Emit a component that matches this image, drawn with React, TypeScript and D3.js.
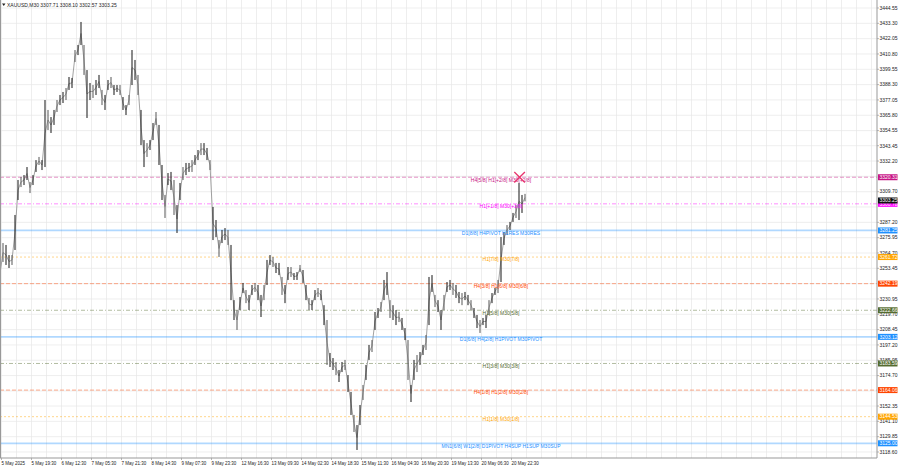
import React from 'react';
import * as d3 from 'd3';

const W = 900;
const H = 468;

const chartTitle = 'XAUUSD,M30  3307.71 3308.10 3302.57 3303.25';

// price columns (each column ~ 3 bars of M30)
const highs = [
  3258.1, 3272.0, 3270.6, 3263.2, 3263.2, 3292.6, 3318.3, 3320.5, 3321.9, 3327.8,
  3316.8, 3321.9, 3332.9, 3335.2, 3332.9, 3377.0, 3369.7, 3364.5, 3369.7, 3377.0,
  3380.7, 3382.9, 3385.8, 3393.9, 3393.2, 3413.7, 3417.4, 3434.3, 3417.4, 3399.0,
  3389.5, 3388.0, 3391.7, 3395.4, 3384.4, 3380.7, 3391.7, 3393.9, 3388.0, 3388.0,
  3388.0, 3379.2, 3373.3, 3380.7, 3413.7, 3406.4, 3395.4, 3369.7, 3347.6, 3345.4,
  3347.6, 3360.1, 3368.2, 3358.7, 3329.3, 3307.3, 3323.4, 3324.2, 3318.3, 3299.9,
  3316.1, 3327.8, 3330.8, 3330.8, 3332.9, 3336.6, 3340.3, 3345.4, 3345.4, 3341.8,
  3332.9, 3298.5, 3288.9, 3274.2, 3281.6, 3283.0, 3281.6, 3270.6, 3230.1, 3222.8,
  3232.4, 3242.7, 3237.5, 3233.9, 3241.2, 3242.7, 3241.2, 3233.9, 3241.2, 3259.6,
  3263.2, 3261.8, 3257.4, 3257.4, 3247.1, 3241.2, 3254.4, 3254.4, 3250.0, 3250.7,
  3255.9, 3252.2, 3241.2, 3231.7, 3230.1, 3237.5, 3239.0, 3237.5, 3226.4, 3215.5,
  3191.3, 3187.6, 3184.7, 3178.8, 3184.7, 3186.2, 3175.1, 3162.7, 3145.8, 3138.4,
  3153.1, 3167.8, 3182.5, 3197.2, 3200.8, 3221.4, 3224.3, 3228.7, 3244.9, 3250.7,
  3230.1, 3226.4, 3222.8, 3221.4, 3217.0, 3209.6, 3200.8, 3167.8, 3186.2, 3189.8,
  3192.0, 3197.2, 3204.5, 3247.1, 3248.5, 3233.9, 3230.1, 3222.8, 3233.9, 3243.4,
  3244.9, 3242.7, 3241.2, 3236.1, 3235.3, 3236.1, 3233.9, 3230.1, 3224.3, 3219.2,
  3215.5, 3217.0, 3219.2, 3230.1, 3235.3, 3239.0, 3244.9, 3276.4, 3280.1, 3285.2,
  3287.5, 3294.1, 3299.9, 3316.1, 3307.3, 3308.1,
];
const lows = [
  3241.2, 3258.1, 3255.9, 3253.7, 3255.9, 3266.9, 3303.6, 3313.1, 3314.6, 3318.3,
  3308.7, 3314.6, 3324.2, 3329.3, 3325.6, 3327.8, 3355.0, 3352.8, 3358.7, 3368.2,
  3373.3, 3374.8, 3377.0, 3384.4, 3385.8, 3404.9, 3410.0, 3417.4, 3395.4, 3363.8,
  3377.0, 3378.5, 3380.7, 3385.8, 3373.3, 3369.7, 3384.4, 3385.8, 3380.7, 3382.9,
  3380.7, 3369.7, 3366.0, 3373.3, 3388.0, 3391.7, 3380.7, 3343.9, 3327.8, 3335.2,
  3340.3, 3347.6, 3358.7, 3329.3, 3303.6, 3290.4, 3314.6, 3310.9, 3292.6, 3279.4,
  3303.6, 3318.3, 3321.9, 3324.2, 3324.2, 3329.3, 3332.9, 3336.6, 3336.6, 3332.9,
  3325.6, 3274.2, 3276.4, 3261.8, 3272.0, 3274.2, 3270.6, 3230.1, 3215.5, 3208.2,
  3222.8, 3235.3, 3227.9, 3222.8, 3233.9, 3236.1, 3230.1, 3217.7, 3230.1, 3241.2,
  3255.9, 3254.4, 3250.0, 3248.5, 3233.9, 3227.9, 3244.9, 3247.1, 3244.9, 3244.9,
  3250.7, 3242.7, 3230.1, 3222.8, 3222.8, 3230.1, 3232.4, 3230.1, 3211.8, 3182.5,
  3181.0, 3178.8, 3175.1, 3170.0, 3177.3, 3178.8, 3162.7, 3145.8, 3133.3, 3120.1,
  3138.4, 3156.8, 3171.5, 3186.2, 3192.0, 3208.2, 3217.0, 3221.4, 3230.1, 3233.9,
  3217.0, 3215.5, 3211.8, 3214.0, 3208.2, 3200.8, 3171.5, 3155.3, 3171.5, 3177.3,
  3182.5, 3189.8, 3193.5, 3211.8, 3236.1, 3225.0, 3221.4, 3208.2, 3222.8, 3236.1,
  3237.5, 3233.9, 3231.7, 3227.9, 3226.4, 3230.1, 3226.4, 3222.8, 3217.0, 3209.6,
  3206.0, 3211.8, 3209.6, 3219.2, 3227.9, 3233.9, 3235.3, 3243.4, 3270.6, 3277.9,
  3281.6, 3287.5, 3290.4, 3288.9, 3294.1, 3302.6,
];

const timeLabels = [
  '5 May 2025', '5 May 19:30', '6 May 12:30', '7 May 05:30', '7 May 21:30',
  '8 May 14:30', '9 May 07:30', '9 May 23:30', '12 May 16:30', '13 May 09:30',
  '14 May 02:30', '14 May 18:30', '15 May 11:30', '16 May 04:30', '16 May 20:30',
  '19 May 13:30', '20 May 06:30', '20 May 22:30',
];

// grid lines (all price steps) and the labels actually visible
const gridPrices = [
  3444.55, 3433.30, 3422.05, 3410.80, 3399.55, 3388.30, 3377.05, 3365.80, 3354.55,
  3343.45, 3332.20, 3320.95, 3309.70, 3298.45, 3287.20, 3275.95, 3264.70, 3253.45,
  3242.20, 3230.95, 3219.70, 3208.45, 3197.20, 3185.95, 3174.70, 3163.45, 3152.35,
  3141.10, 3129.85, 3118.60,
];
const priceTicks = [
  3444.55, 3433.30, 3422.05, 3410.80, 3399.55, 3388.30, 3377.05, 3365.80, 3354.55,
  3343.45, 3332.20, 3309.70, 3287.20, 3275.95, 3264.70, 3253.45,
  3230.95, 3219.70, 3208.45, 3197.20, 3185.95, 3174.70, 3152.35,
  3141.10, 3129.85, 3118.60,
];

const levelValues = [3320.31, 3300.78, 3281.25, 3261.72, 3242.19, 3222.66, 3203.12, 3183.59, 3164.06, 3144.53, 3125.0];
const levelTexts = [
  'H4[5/8] H1[+2/8] M30[+2/8]',
  'H1[+1/8] M30[+1/8]',
  'D1[8/8] H4PIVOT H1RES M30RES',
  'H1[7/8] M30[7/8]',
  'H4[3/8] H1[6/8] M30[6/8]',
  'H1[5/8] M30[5/8]',
  'D1[6/8] H4[2/8] H1PIVOT M30PIVOT',
  'H1[3/8] M30[3/8]',
  'H4[1/8] H1[2/8] M30[2/8]',
  'H1[1/8] M30[1/8]',
  'MN1[6/8] W1[2/8] D1PIVOT H4SUP H1SUP M30SUP',
];
const levelColors = ['#c71585', '#ff00ff', '#1e90ff', '#ffa500', '#ff4500', '#556b2f', '#1e90ff', '#556b2f', '#ff4500', '#ffa500', '#1e90ff'];
const levelDashes = ['4,2', '4,2,1,2', '', '2,2', '4,2', '4,2,1,2', '', '4,2,1,2', '4,2', '2,2', ''];

const lastPrice = 3303.25;
const markerPrice = 3320.31;
const markerSlot = 173.2;

const FONT = '"Liberation Sans", Arial, sans-serif';

export default function App() {
  const plotRight = 877;
  const plotBottom = 458;
  const x = d3.scaleLinear().domain([0, 290]).range([0, 870]);
  const y = d3.scaleLinear().domain([3114.2, 3450.42]).range([plotBottom, 0]);

  const mids = highs.map((h, i) => (h + lows[i]) / 2);
  const midLine = d3.line<number>().x((_, i) => x(i)).y((d) => y(d))(mids) || '';

  const gridX = d3.range(0, 59).map((k) => x(k * 5) + 1.5);

  return (
    <svg width={W} height={H} style={{ position: 'absolute', left: 0, top: 0, background: '#fff' }} fontFamily={FONT}>
      <rect x={0} y={0} width={W} height={H} fill="#fff" />
      {/* grid */}
      {gridX.map((gx, i) => (
        <line key={'gx' + i} x1={gx} x2={gx} y1={0} y2={plotBottom} stroke="#e6e6e6" strokeWidth={0.7} />
      ))}
      {gridPrices.map((p, i) => (
        <line key={'gy' + i} x1={0} x2={plotRight} y1={y(p)} y2={y(p)} stroke="#e6e6e6" strokeWidth={0.7} />
      ))}
      {/* levels */}
      {levelValues.map((v, i) => (
        <line
          key={'lv' + i}
          x1={0}
          x2={plotRight}
          y1={y(v)}
          y2={y(v)}
          stroke={levelColors[i]}
          strokeOpacity={levelDashes[i] === '' ? 0.35 : 0.45}
          strokeWidth={levelDashes[i] === '' ? 1.8 : 1}
          strokeDasharray={levelDashes[i] || undefined}
        />
      ))}
      {/* price */}
      <path d={midLine} fill="none" stroke="#8a8a8a" strokeWidth={0.8} />
      {highs.map((h, i) => (
        <rect key={'c' + i} x={x(i) - 0.55} y={y(h)} width={1.1} height={Math.max(1, y(lows[i]) - y(h))} fill={i % 3 === 1 ? '#666' : '#2c2c2c'} />
      ))}
      {/* level texts */}
      {levelValues.map((v, i) => (
        <text key={'lt' + i} x={501} y={y(v) + 4.3} fontSize={5} fill={levelColors[i]} textAnchor="middle">
          {levelTexts[i]}
        </text>
      ))}
      {/* marker */}
      <g stroke="#e8336d" strokeWidth={1.3}>
        <line x1={x(markerSlot) - 5.3} x2={x(markerSlot) + 5.3} y1={y(markerPrice) - 5.3} y2={y(markerPrice) + 5.3} />
        <line x1={x(markerSlot) - 5.3} x2={x(markerSlot) + 5.3} y1={y(markerPrice) + 5.3} y2={y(markerPrice) - 5.3} />
      </g>
      {/* borders */}
      <line x1={0.5} x2={0.5} y1={0} y2={plotBottom} stroke="#999" strokeWidth={1} />
      <line x1={plotRight} x2={plotRight} y1={0} y2={plotBottom} stroke="#999" strokeWidth={1} />
      <line x1={0} x2={plotRight} y1={plotBottom} y2={plotBottom} stroke="#999" strokeWidth={1} />
      {/* price axis */}
      {priceTicks.map((p, i) => (
        <g key={'pt' + i}>
          <line x1={plotRight} x2={plotRight + 2} y1={y(p)} y2={y(p)} stroke="#999" strokeWidth={0.7} />
          <text x={plotRight + 2.5} y={y(p) + 1.8} fontSize={5} fill="#222">
            {p.toFixed(2)}
          </text>
        </g>
      ))}
      {levelValues.map((v, i) => (
        <g key={'lb' + i}>
          <rect x={plotRight + 1} y={y(v) - 3} width={19.5} height={6} fill={levelColors[i]} />
          <text x={plotRight + 2.5} y={y(v) + 1.8} fontSize={5} fill="#fff">
            {v.toFixed(2)}
          </text>
        </g>
      ))}
      <g>
        <rect x={plotRight + 1} y={y(lastPrice) - 3} width={19.5} height={6} fill="#111" />
        <text x={plotRight + 2.5} y={y(lastPrice) + 1.8} fontSize={5} fill="#fff">
          {lastPrice.toFixed(2)}
        </text>
      </g>
      {/* time axis */}
      {timeLabels.map((t, i) => (
        <g key={'tl' + i}>
          <line x1={x(i * 10) + 1.5} x2={x(i * 10) + 1.5} y1={plotBottom} y2={plotBottom + 2} stroke="#999" strokeWidth={0.7} />
          <text x={x(i * 10) + 1.5} y={plotBottom + 6.5} fontSize={4.5} fill="#222">
            {t}
          </text>
        </g>
      ))}
      {/* title */}
      <path d="M2,3.5 L5.5,3.5 L3.75,6 Z" fill="#222" />
      <text x={7} y={6.5} fontSize={5} fill="#222">
        {chartTitle}
      </text>
    </svg>
  );
}
